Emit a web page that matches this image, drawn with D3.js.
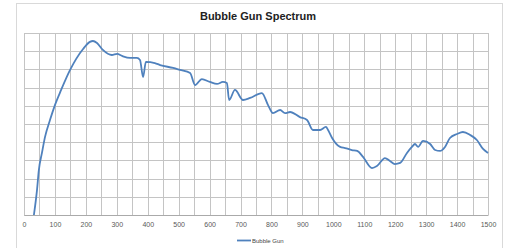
<!DOCTYPE html>
<html><head><meta charset="utf-8">
<script src="https://cdn.jsdelivr.net/npm/d3@7"></script>
<style>body{margin:0;background:#fff}svg{display:block}</style>
</head><body>
<svg id="c" width="507" height="248"></svg>
<script>
const title = "Bubble Gun Spectrum";
const seriesName = "Bubble Gun";
const xTicks = [0,100,200,300,400,500,600,700,800,900,1000,1100,1200,1300,1400,1500];
const freq = [32,42,48,58,68,84,100,120,149,191,213,223,236,255,284,301,317,343,365,375,385,394,423,440,482,504,537,553,575,601,624,643,656,663,682,708,731,769,789,805,828,844,860,892,915,934,957,976,983,996,1022,1038,1060,1077,1096,1125,1141,1167,1183,1199,1216,1238,1254,1264,1274,1290,1313,1329,1345,1361,1377,1400,1419,1442,1464,1484,1500];
const level = [0,1.37,2.47,3.41,4.29,5.22,6.04,6.87,7.97,9.12,9.51,9.56,9.45,9.07,8.79,8.85,8.74,8.63,8.63,8.52,7.58,8.41,8.35,8.24,8.08,7.97,7.80,7.14,7.47,7.31,7.20,7.31,7.25,6.32,6.87,6.32,6.43,6.70,6.04,5.60,5.77,5.60,5.66,5.38,5.22,4.67,4.67,4.84,4.67,4.23,3.74,3.68,3.57,3.52,3.19,2.58,2.69,3.13,2.97,2.80,2.86,3.41,3.74,3.90,3.74,4.07,3.90,3.57,3.52,3.74,4.23,4.45,4.56,4.40,4.12,3.63,3.41];

const svg = d3.select("#c");
const L=24, R=488, T=33, B=215;
const x = d3.scaleLinear().domain([0,1500]).range([L,R]);
const y = d3.scaleLinear().domain([0,10]).range([B,T]);
const font = "'Liberation Sans', Arial, sans-serif";

svg.append("rect").attr("x",16.5).attr("y",3.5).attr("width",486).attr("height",250)
  .attr("fill","#fff").attr("stroke","#d9d9d9");

svg.append("text").attr("x",258).attr("y",20).attr("text-anchor","middle")
  .attr("font-family",font).attr("font-weight","bold").attr("font-size",11).attr("fill","#222").text(title);

const g = svg.append("g");
g.selectAll("line.v").data(d3.range(0,1501,50)).join("line")
  .attr("x1",d=>Math.round(x(d))+0.5).attr("x2",d=>Math.round(x(d))+0.5).attr("y1",T).attr("y2",B)
  .attr("stroke","#c4c4c4").attr("stroke-width",1);
g.selectAll("line.h").data(d3.range(0,11,1)).join("line")
  .attr("y1",d=>Math.round(y(d))+0.5).attr("y2",d=>Math.round(y(d))+0.5).attr("x1",L).attr("x2",R)
  .attr("stroke","#c4c4c4").attr("stroke-width",1);

const ax = svg.append("g").attr("transform",`translate(0,${B})`)
  .call(d3.axisBottom(x).tickValues(xTicks).tickSize(0).tickPadding(7).tickFormat(d3.format("d")));
ax.select(".domain").attr("stroke","#aaa");
ax.selectAll("text").attr("font-family",font).attr("font-size",7).attr("fill","#595959");

const pts = freq.map((f,i)=>[f,level[i]]);
svg.append("path").datum(pts)
  .attr("d", d3.line().x(d=>x(d[0])).y(d=>y(d[1])).curve(d3.curveMonotoneX))
  .attr("fill","none").attr("stroke","#4f81bd").attr("stroke-width",1.8);

svg.append("line").attr("x1",237).attr("x2",251).attr("y1",240.5).attr("y2",240.5)
  .attr("stroke","#4f81bd").attr("stroke-width",1.8);
svg.append("text").attr("x",252).attr("y",242.5).attr("font-family",font).attr("font-size",6)
  .attr("fill","#444").text(seriesName);
</script>
</body></html>
